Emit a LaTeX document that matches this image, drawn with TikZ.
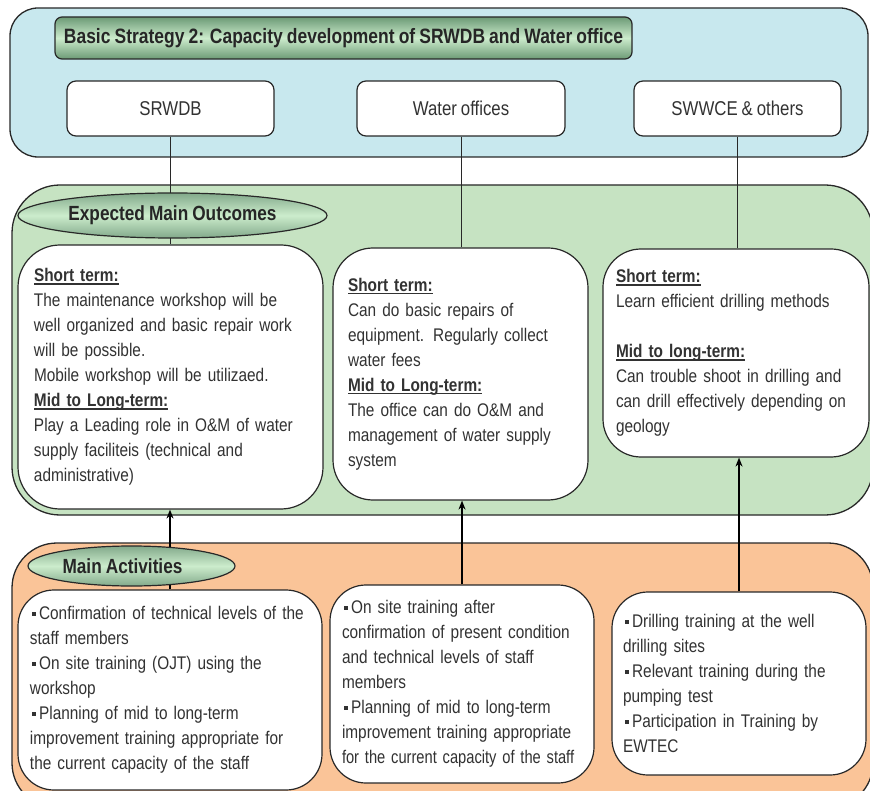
\documentclass[tikz,border=0pt]{standalone}
\usepackage{fontspec}
\usepackage{graphicx}
\setmainfont[FakeStretch=0.84,WordSpace=0.85]{Liberation Sans}
\usetikzlibrary{shapes.geometric,arrows.meta}
\definecolor{bluepanel}{RGB}{200,232,238}
\definecolor{greenpanel}{RGB}{198,227,194}
\definecolor{orangepanel}{RGB}{250,196,152}
\definecolor{dkgreen}{RGB}{108,154,118}
\definecolor{ltgreen}{RGB}{204,236,204}
\definecolor{txt}{RGB}{50,50,50}
\definecolor{edge}{RGB}{40,40,40}
\newsavebox\hdbox
\newcommand\myhd[1]{\leavevmode\sbox\hdbox{\textbf{#1}}\rlap{\rule[-3.2pt]{\wd\hdbox}{1.5pt}}\usebox\hdbox}
\newcommand\sqbul{\leavevmode\hspace{2pt}\raisebox{4pt}{\rule{3.6pt}{3.6pt}}\hspace{3.5pt}}
\begin{document}
\begin{tikzpicture}[x=1pt,y=-1pt,
 panel/.style={draw=edge,line width=1.3pt},
 box/.style={draw=edge,fill=white,line width=1.2pt,rounded corners=9pt,font=\fontsize{20}{24}\selectfont,text=txt,inner sep=0pt},
 tbox/.style={draw=edge,fill=white,line width=1.2pt,rounded corners=40pt,align=left,inner xsep=15pt,inner ysep=0pt,font=\fontsize{18.3}{25}\selectfont,text=txt},
 titlebox/.style={draw=edge,line width=1.2pt,rounded corners=7pt,top color=dkgreen,bottom color=dkgreen,middle color=ltgreen,font=\bfseries\fontsize{20.8}{24}\selectfont,text=black!85,inner sep=0pt},
 oval/.style={ellipse,draw=edge,line width=1.2pt,top color=dkgreen!85,bottom color=dkgreen!85,middle color=ltgreen,font=\bfseries\fontsize{20.5}{22}\selectfont,text=black!85,inner sep=0pt},
 link/.style={draw=edge,line width=0.9pt},
 up/.style={draw=black,line width=1.4pt,-{Stealth[length=9pt,width=7pt]}}
]
\useasboundingbox (0,0) rectangle (870,791);
\clip (0,0) rectangle (870,791);

% panels
\draw[panel,fill=bluepanel,rounded corners=28pt] (10,8) rectangle (868,157);
\draw[panel,fill=greenpanel,rounded corners=48pt] (12,185) rectangle (873,515);
\draw[panel,fill=orangepanel,rounded corners=45pt] (12,543) rectangle (873,808);

% top
\node[titlebox,minimum width=577pt,minimum height=42pt] (title) at (343.5,38) {Basic Strategy 2: Capacity development of SRWDB and Water office};
\node[box,minimum width=207pt,minimum height=55pt] (srwdb) at (170.5,108.5) {SRWDB};
\node[box,minimum width=208pt,minimum height=55pt] (wo) at (461,108.5) {Water offices};
\node[box,minimum width=207pt,minimum height=55pt] (sw) at (737.5,108.5) {SWWCE \& others};

% outcome boxes
\node[tbox,text width=273pt,minimum height=264pt,inner xsep=16pt,rounded corners=42pt] (g1) at (170.5,377) {%
\myhd{Short term:}\\
The maintenance workshop will be\\
well organized and basic repair work\\
will be possible.\\
Mobile workshop will be utilizaed.\\
\myhd{Mid to Long-term:}\\
Play a Leading role in O\&M of water\\
supply faciliteis (technical and\\
administrative)};
\node[tbox,text width=225pt,minimum height=252pt,rounded corners=40pt] (g2) at (460.5,374) {%
\myhd{Short term:}\\
Can do basic repairs of\\
equipment. Regularly collect\\
water fees\\
\myhd{Mid to Long-term:}\\
The office can do O\&M and\\
management of water supply\\
system};
\node[tbox,text width=240pt,minimum height=208pt,inner xsep=13pt,rounded corners=38pt] (g3) at (736,353) {%
\myhd{Short term:}\\
Learn efficient drilling methods\\[25pt]
\myhd{Mid to long-term:}\\
Can trouble shoot in drilling and\\
can drill effectively depending on\\
geology};

% activity boxes
\node[tbox,text width=280pt,minimum height=200pt,inner xsep=12pt,rounded corners=36pt] (a1) at (170,690) {%
\sqbul Confirmation of technical levels of the\\
staff members\\
\sqbul On site training (OJT) using the\\
workshop\\
\sqbul Planning of mid to long-term\\
improvement training appropriate for\\
the current capacity of the staff};
\node[tbox,text width=240pt,minimum height=198pt,inner xsep=12pt,rounded corners=36pt] (a2) at (462,684) {%
\sqbul On site training after\\
confirmation of present condition\\
and technical levels of staff\\
members\\
\sqbul Planning of mid to long-term\\
improvement training appropriate\\
\scalebox{0.955}[1]{for the current capacity of the staff}};
\node[tbox,text width=232pt,minimum height=183pt,inner xsep=11pt,rounded corners=36pt] (a3) at (739,683.5) {%
\sqbul Drilling training at the well\\
drilling sites\\
\sqbul Relevant training during the\\
pumping test\\
\sqbul Participation in Training by\\
EWTEC};

% connectors
\draw[link] (srwdb.south) -- (srwdb.south |- g1.north);
\draw[link] (wo.south) -- (wo.south |- g2.north);
\draw[link] (sw.south) -- (sw.south |- g3.north);
\draw[up] (a1.north) -- (a1.north |- g1.south);
\draw[up] (a2.north) -- (a2.north |- g2.south);
\draw[up] (a3.north) -- (a3.north |- g3.south);

% ovals
\node[oval,minimum width=309pt,minimum height=45pt] (emo) at (172.5,215.5) {Expected Main Outcomes};
\node[oval,minimum width=207pt,minimum height=40pt] (ma) at (131.5,566) {\hspace{-18pt}Main Activities};
\end{tikzpicture}
\end{document}
